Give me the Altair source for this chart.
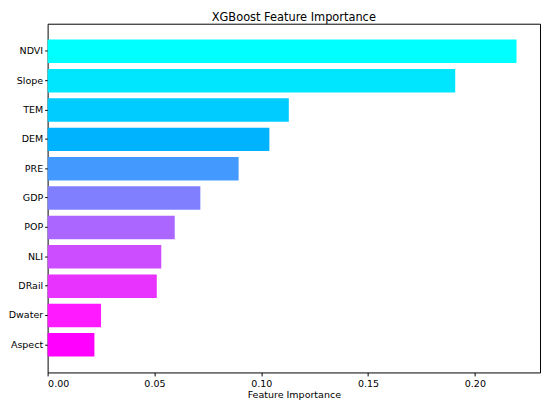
import altair as alt
import pandas as pd

features = ["NDVI", "Slope", "TEM", "DEM", "PRE", "GDP", "POP", "NLI", "DRail", "Dwater", "Aspect"]
importance = [0.2195, 0.1908, 0.1129, 0.1038, 0.0894, 0.0715, 0.0595, 0.0532, 0.0511, 0.0250, 0.0219]
colors = ["#00FFFF", "#00E6FF", "#00CCFF", "#00B3FF", "#4499FF", "#8080FF",
          "#AA66FF", "#CC4DFF", "#E833FF", "#FF1AFF", "#FF00FF"]
x_ticks = [0.0, 0.05, 0.10, 0.15, 0.20]

df = pd.DataFrame({"feature": features, "importance": importance})

font = "DejaVu Sans"

chart = alt.Chart(df).mark_bar().encode(
    x=alt.X("importance:Q",
            scale=alt.Scale(domain=[0, 0.2305], nice=False, zero=True),
            axis=alt.Axis(title="Feature Importance", values=x_ticks, format=".2f",
                          grid=False, domain=False, tickColor="black", tickSize=3.5,
                          labelFontSize=9.6, titleFontSize=9.6, labelFont=font, titleFont=font,
                          titleFontWeight="normal", labelColor="black", titleColor="black",
                          labelPadding=2.5, titlePadding=2)),
    y=alt.Y("feature:N", sort=features,
            scale=alt.Scale(paddingInner=0.2, paddingOuter=0.54),
            axis=alt.Axis(title=None, grid=False, domain=False, tickColor="black", tickSize=3,
                          labelFontSize=9.6, labelFont=font, labelColor="black", labelPadding=2)),
    color=alt.Color("feature:N", scale=alt.Scale(domain=features, range=colors), legend=None),
).properties(
    width=497,
    height=352,
    title=alt.TitleParams("XGBoost Feature Importance", fontSize=11.5, font=font,
                          fontWeight="normal", color="black", offset=0),
    autosize=alt.AutoSizeParams(type="none"),
    padding={"left": 40, "top": 14, "right": 2, "bottom": 33},
).configure_view(
    stroke="black", strokeWidth=1
)

chart.save("out.html", embed_options={"renderer": "svg", "actions": False})
